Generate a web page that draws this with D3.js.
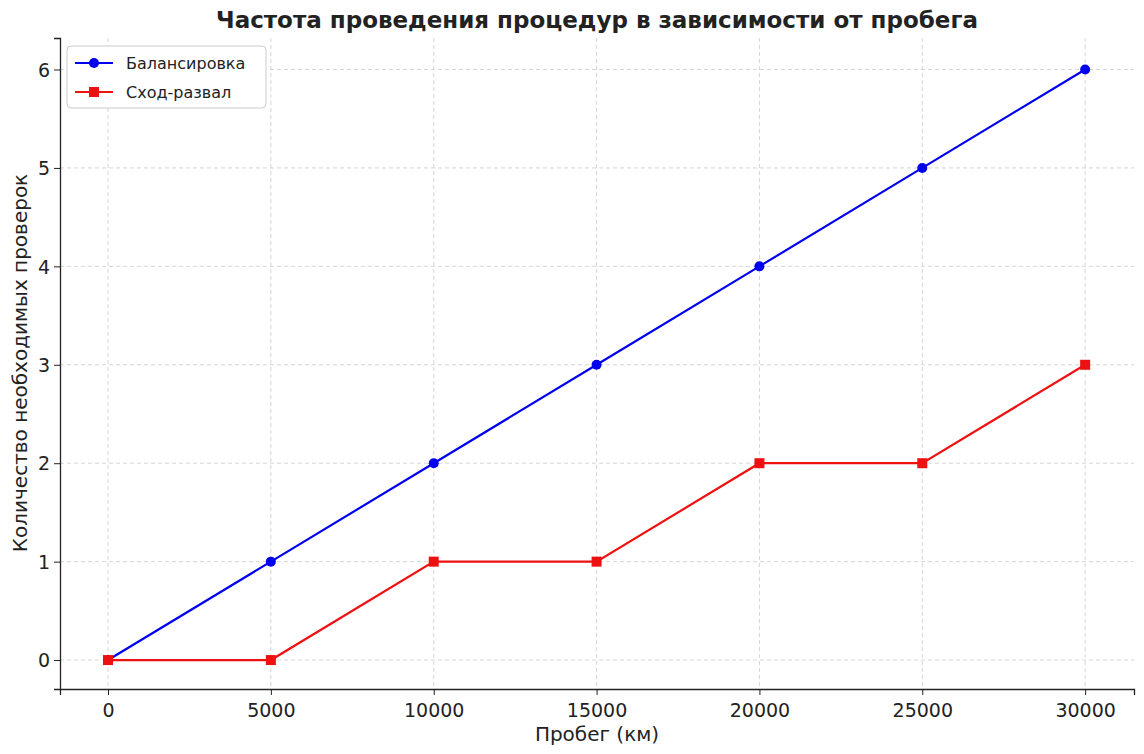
<!DOCTYPE html>
<html><head><meta charset="utf-8">
<script src="https://cdn.jsdelivr.net/npm/d3@7"></script>
<style>body{margin:0;background:#fff}svg{font-family:"DejaVu Sans",sans-serif}</style>
</head><body>
<svg id="c" width="1144" height="754"></svg>
<script>
const mileage=[0,5000,10000,15000,20000,25000,30000];
const balancing=[0,1,2,3,4,5,6];
const alignment=[0,0,1,1,2,2,3];
const xTicks=[0,5000,10000,15000,20000,25000,30000];
const yTicks=[0,1,2,3,4,5,6];
const seriesNames=["Балансировка","Сход-развал"];

const svg=d3.select("#c");
const L=60,R=1134,T=38,B=689;
const x=d3.scaleLinear().domain([-1474,31500]).range([L,R]);
const y=d3.scaleLinear().domain([-0.294,6.32]).range([B,T]);
const g=svg.append("g");
g.selectAll(".gx").data(xTicks).join("line").attr("x1",d=>x(d)).attr("x2",d=>x(d)).attr("y1",T).attr("y2",B)
 .attr("stroke","#ccc").attr("stroke-dasharray","4,3").attr("stroke-width",0.8);
g.selectAll(".gy").data(yTicks).join("line").attr("y1",d=>y(d)).attr("y2",d=>y(d)).attr("x1",L).attr("x2",R)
 .attr("stroke","#ccc").attr("stroke-dasharray","4,3").attr("stroke-width",0.8);
const xa=svg.append("g").attr("transform",`translate(0,${B})`).call(d3.axisBottom(x).tickValues(xTicks).tickFormat(d3.format("d")).tickSizeOuter(0).tickSize(6));
const ya=svg.append("g").attr("transform",`translate(${L},0)`).call(d3.axisLeft(y).tickValues(yTicks).tickFormat(d3.format("d")).tickSizeOuter(0).tickSize(6));
[xa,ya].forEach(a=>{a.attr("font-size",null).attr("font-family",null);a.selectAll("text").style("font-size","19px").attr("fill","#222");a.select(".domain").attr("stroke","#222").attr("stroke-width",1.3);a.selectAll(".tick line").attr("stroke","#222");});
xa.selectAll("text").attr("dy","1.0em");
ya.selectAll("text").attr("dy","0.35em").attr("x",-10);
const line=d3.line().x((d,i)=>x(mileage[i])).y(d=>y(d));
svg.append("path").attr("d",line(balancing)).attr("fill","none").attr("stroke","#0000ee").attr("stroke-width",2.2);
svg.append("path").attr("d",line(alignment)).attr("fill","none").attr("stroke","#ee1111").attr("stroke-width",2.2);
svg.selectAll(".pb").data(balancing).join("circle").attr("cx",(d,i)=>x(mileage[i])).attr("cy",d=>y(d)).attr("r",5).attr("fill","#0000ee");
svg.selectAll(".pa").data(alignment).join("rect").attr("x",(d,i)=>x(mileage[i])-5).attr("y",d=>y(d)-5).attr("width",10).attr("height",10).attr("fill","#ee1111");
svg.append("text").attr("x",597).attr("y",28).attr("text-anchor","middle").style("font-size","23px").attr("font-weight","bold").attr("fill","#222").text("Частота проведения процедур в зависимости от пробега");
svg.append("text").attr("x",597).attr("y",741).attr("text-anchor","middle").style("font-size","20px").attr("fill","#222").text("Пробег (км)");
svg.append("text").attr("transform","translate(27,363) rotate(-90)").attr("text-anchor","middle").style("font-size","20px").attr("fill","#222").text("Количество необходимых проверок");
const lg=svg.append("g");
lg.append("rect").attr("x",67).attr("y",46).attr("width",199).attr("height",62).attr("rx",4).attr("fill","#fff").attr("stroke","#ccc");
[["#0000ee","c"],["#ee1111","s"]].forEach((s,i)=>{const yy=63+i*29;
 lg.append("line").attr("x1",75).attr("x2",113).attr("y1",yy).attr("y2",yy).attr("stroke",s[0]).attr("stroke-width",2.2);
 if(s[1]=="c")lg.append("circle").attr("cx",94).attr("cy",yy).attr("r",5).attr("fill",s[0]);
 else lg.append("rect").attr("x",89).attr("y",yy-5).attr("width",10).attr("height",10).attr("fill",s[0]);
 lg.append("text").attr("x",126).attr("y",yy+6).style("font-size","16px").attr("fill","#222").text(seriesNames[i]);});
</script></body></html>
